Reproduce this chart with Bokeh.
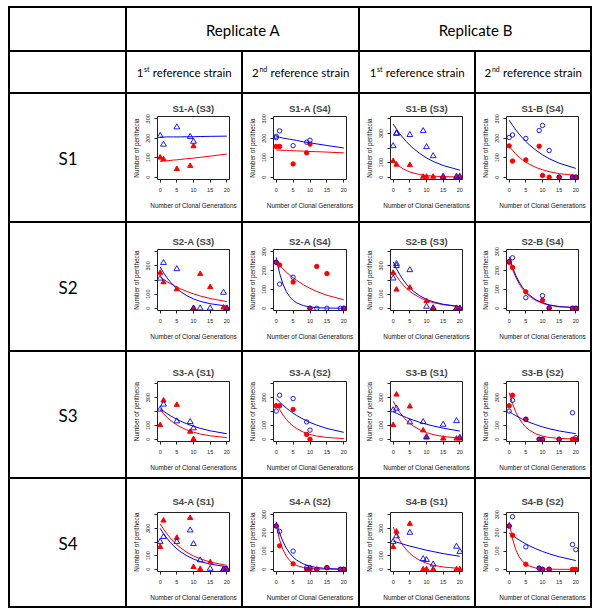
from bokeh.plotting import figure
from bokeh.models import GridBox, Range1d, FixedTicker, Plot, Text, ColumnDataSource, Div
from bokeh.core.properties import value
from bokeh.embed import file_html
from bokeh.resources import INLINE

# ---------------- data ----------------
REPLICATES = ["Replicate A", "Replicate B"]
REF_NUMS = ["1", "2", "1", "2"]
REF_SUPS = ["st", "nd", "st", "nd"]
REF_TEXT = "reference strain"
STRAINS = ["S1", "S2", "S3", "S4"]
PANEL_TITLES = [
    ["S1-A (S3)", "S1-A (S4)", "S1-B (S3)", "S1-B (S4)"],
    ["S2-A (S3)", "S2-A (S4)", "S2-B (S3)", "S2-B (S4)"],
    ["S3-A (S1)", "S3-A (S2)", "S3-B (S1)", "S3-B (S2)"],
    ["S4-A (S1)", "S4-A (S2)", "S4-B (S1)", "S4-B (S2)"],
]
PANEL_YMAX = [[300, 300, 400, 300],
              [400, 300, 400, 300],
              [400, 400, 400, 400],
              [400, 300, 400, 300]]
X_LABEL = "Number of Clonal Generations"
Y_LABEL = "Number of perithecia"
X_TICKS = [0, 5, 10, 15, 20]
Y_TICKS_300 = [0, 100, 200, 300]
Y_TICKS_400 = [0, 100, 200, 300, 400]
Y_HIDDEN_400 = [200, 400]
FIT_GENS = [0, 1, 2, 3, 4, 5, 6, 8, 10, 12, 15, 20]

# (generation, number of perithecia)
S1A_S3_BLUE = [(0, 213), (1, 168), (5, 257), (9, 208), (10, 183)]
S1A_S3_RED = [(0, 101), (1, 92), (5, 42), (9, 58), (10, 159)]
S1A_S3_BLUE_FIT = [206, 206, 207, 207, 207, 207, 207, 208, 208, 209, 210, 211]
S1A_S3_RED_FIT = [81, 83, 84, 86, 88, 89, 91, 95, 98, 102, 108, 119]

S1A_S4_BLUE = [(0, 203), (0, 210), (1, 238), (5, 162), (9, 180), (10, 190)]
S1A_S4_RED = [(0, 158), (1, 158), (5, 68), (9, 125), (10, 170)]
S1A_S4_BLUE_FIT = [208, 205, 201, 198, 195, 192, 189, 182, 177, 171, 163, 150]
S1A_S4_RED_FIT = [140, 139, 138, 138, 137, 136, 135, 134, 132, 131, 129, 125]

S1B_S3_BLUE = [(0, 214), (1, 302), (1, 298), (5, 290), (9, 317), (10, 207), (12, 145), (15, 5), (19, 5), (20, 5)]
S1B_S3_RED = [(0, 110), (1, 86), (5, 83), (9, 3), (10, 3), (12, 3), (15, 0), (19, 0), (20, 0)]
S1B_S3_BLUE_FIT = [364, 329, 297, 269, 243, 219, 198, 162, 132, 108, 80, 48]
S1B_S3_RED_FIT = [114, 91, 72, 57, 45, 36, 29, 18, 11, 7, 4, 1]

S1B_S4_BLUE = [(0, 204), (1, 217), (5, 199), (9, 240), (10, 266), (12, 137), (15, 0), (19, 0), (20, 0)]
S1B_S4_RED = [(0, 161), (1, 83), (5, 89), (9, 159), (10, 9), (12, 0), (15, 0), (19, 0), (20, 0)]
S1B_S4_BLUE_FIT = [293, 267, 243, 221, 202, 184, 167, 139, 115, 95, 72, 45]
S1B_S4_RED_FIT = [159, 138, 119, 103, 89, 77, 67, 50, 38, 28, 18, 9]

S2A_S3_BLUE = [(0, 211), (1, 322), (5, 278), (10, 0), (12, 0), (15, 0), (19, 111), (20, 0)]
S2A_S3_RED = [(0, 251), (1, 184), (5, 135), (10, 0), (12, 243), (15, 150), (19, 5), (20, 0)]
S2A_S3_BLUE_FIT = [292, 252, 217, 187, 162, 139, 120, 89, 66, 49, 32, 15]
S2A_S3_RED_FIT = [221, 205, 189, 175, 162, 150, 139, 119, 102, 87, 69, 47]

S2A_S4_BLUE = [(0, 244), (1, 128), (5, 165), (10, 0), (12, 0), (15, 0), (19, 0), (20, 0)]
S2A_S4_RED = [(0, 244), (1, 230), (5, 139), (10, 0), (12, 222), (15, 184), (20, 0)]
S2A_S4_BLUE_FIT = [270, 186, 128, 88, 61, 42, 29, 14, 7, 3, 1, 0]
S2A_S4_RED_FIT = [248, 228, 209, 192, 176, 162, 149, 125, 106, 89, 69, 45]

S2B_S3_BLUE = [(0, 212), (1, 315), (1, 300), (5, 271), (10, 12), (12, 2), (19, 0), (20, 0)]
S2B_S3_RED = [(0, 251), (1, 132), (5, 146), (10, 51), (12, 0), (19, 0), (20, 0)]
S2B_S3_BLUE_FIT = [329, 279, 237, 201, 170, 144, 122, 88, 63, 46, 28, 12]
S2B_S3_RED_FIT = [266, 227, 194, 165, 141, 120, 103, 75, 54, 40, 25, 11]

S2B_S4_BLUE = [(0, 248), (1, 268), (5, 56), (10, 67), (12, 2), (19, 0), (20, 0)]
S2B_S4_RED = [(0, 244), (1, 217), (5, 87), (10, 42), (12, 0), (19, 0), (20, 0)]
S2B_S4_BLUE_FIT = [273, 218, 174, 139, 111, 89, 71, 45, 29, 18, 9, 3]
S2B_S4_RED_FIT = [259, 206, 164, 130, 103, 82, 65, 41, 26, 16, 8, 3]

S3A_S1_BLUE = [(0, 215), (1, 251), (5, 130), (9, 125), (10, 80)]
S3A_S1_RED = [(0, 102), (1, 279), (5, 248), (9, 54), (10, 2)]
S3A_S1_BLUE_FIT = [220, 202, 186, 170, 157, 144, 132, 111, 94, 79, 61, 40]
S3A_S1_RED_FIT = [213, 185, 160, 138, 120, 104, 90, 67, 51, 38, 25, 12]

S3A_S2_BLUE = [(0, 203), (1, 317), (5, 293), (9, 125), (10, 66)]
S3A_S2_RED = [(0, 241), (1, 241), (5, 215), (9, 35), (10, 0)]
S3A_S2_BLUE_FIT = [293, 268, 246, 225, 206, 188, 172, 145, 121, 102, 78, 50]
S3A_S2_RED_FIT = [262, 214, 175, 143, 116, 95, 78, 52, 34, 23, 13, 5]

S3B_S1_BLUE = [(0, 210), (1, 222), (5, 123), (9, 125), (10, 17), (15, 106), (19, 132), (20, 12)]
S3B_S1_RED = [(0, 102), (1, 322), (5, 236), (9, 64), (10, 12), (15, 5), (19, 5), (20, 5)]
S3B_S1_BLUE_FIT = [199, 187, 176, 166, 156, 147, 138, 122, 108, 96, 80, 59]
S3B_S1_RED_FIT = [274, 230, 193, 162, 136, 114, 96, 68, 48, 34, 20, 8]

S3B_S2_BLUE = [(0, 203), (1, 281), (5, 144), (9, 0), (10, 0), (15, 0), (19, 191), (20, 12)]
S3B_S2_RED = [(0, 241), (1, 317), (5, 144), (9, 0), (10, 0), (15, 0), (19, 0), (20, 0)]
S3B_S2_BLUE_FIT = [199, 184, 170, 157, 144, 133, 123, 105, 89, 76, 60, 40]
S3B_S2_RED_FIT = [336, 257, 196, 150, 114, 87, 67, 39, 23, 13, 6, 2]

S4A_S1_BLUE = [(0, 202), (1, 238), (5, 202), (9, 286), (10, 186), (12, 67), (15, 5), (19, 0), (20, 0)]
S4A_S1_RED = [(0, 164), (1, 357), (5, 231), (9, 376), (10, 17), (12, 2), (15, 52), (19, 0), (20, 0)]
S4A_S1_BLUE_FIT = [300, 261, 228, 198, 173, 150, 131, 99, 75, 57, 38, 19]
S4A_S1_RED_FIT = [333, 295, 261, 231, 204, 181, 160, 125, 98, 77, 53, 29]

S4A_S2_BLUE = [(0, 238), (1, 208), (5, 100), (9, 9), (10, 9), (12, 0), (15, 9), (19, 0), (20, 0)]
S4A_S2_RED = [(0, 238), (1, 129), (5, 30), (9, 0), (10, 0), (12, 0), (15, 9), (19, 0), (20, 0)]
S4A_S2_BLUE_FIT = [261, 199, 152, 116, 88, 67, 51, 30, 17, 10, 4, 1]
S4A_S2_RED_FIT = [243, 162, 108, 72, 48, 32, 21, 10, 4, 2, 1, 0]

S4B_S1_BLUE = [(0, 202), (1, 243), (5, 269), (9, 76), (10, 69), (12, 36), (19, 167), (20, 129)]
S4B_S1_RED = [(0, 164), (1, 276), (5, 333), (9, 0), (10, 0), (12, 0), (19, 0), (20, 0)]
S4B_S1_BLUE_FIT = [207, 199, 192, 184, 177, 170, 164, 152, 140, 130, 115, 95]
S4B_S1_RED_FIT = [310, 255, 210, 173, 142, 117, 96, 65, 44, 30, 17, 6]

S4B_S2_BLUE = [(0, 238), (1, 289), (5, 123), (9, 5), (10, 0), (12, 0), (19, 136), (20, 108)]
S4B_S2_RED = [(0, 238), (1, 187), (5, 28), (9, 7), (10, 0), (12, 0), (19, 0), (20, 0)]
S4B_S2_BLUE_FIT = [199, 185, 173, 161, 150, 140, 130, 113, 98, 85, 69, 48]
S4B_S2_RED_FIT = [261, 167, 107, 68, 44, 28, 18, 7, 3, 1, 0, 0]

PANEL_DATA = [
    [(S1A_S3_BLUE, S1A_S3_RED, S1A_S3_BLUE_FIT, S1A_S3_RED_FIT),
     (S1A_S4_BLUE, S1A_S4_RED, S1A_S4_BLUE_FIT, S1A_S4_RED_FIT),
     (S1B_S3_BLUE, S1B_S3_RED, S1B_S3_BLUE_FIT, S1B_S3_RED_FIT),
     (S1B_S4_BLUE, S1B_S4_RED, S1B_S4_BLUE_FIT, S1B_S4_RED_FIT)],
    [(S2A_S3_BLUE, S2A_S3_RED, S2A_S3_BLUE_FIT, S2A_S3_RED_FIT),
     (S2A_S4_BLUE, S2A_S4_RED, S2A_S4_BLUE_FIT, S2A_S4_RED_FIT),
     (S2B_S3_BLUE, S2B_S3_RED, S2B_S3_BLUE_FIT, S2B_S3_RED_FIT),
     (S2B_S4_BLUE, S2B_S4_RED, S2B_S4_BLUE_FIT, S2B_S4_RED_FIT)],
    [(S3A_S1_BLUE, S3A_S1_RED, S3A_S1_BLUE_FIT, S3A_S1_RED_FIT),
     (S3A_S2_BLUE, S3A_S2_RED, S3A_S2_BLUE_FIT, S3A_S2_RED_FIT),
     (S3B_S1_BLUE, S3B_S1_RED, S3B_S1_BLUE_FIT, S3B_S1_RED_FIT),
     (S3B_S2_BLUE, S3B_S2_RED, S3B_S2_BLUE_FIT, S3B_S2_RED_FIT)],
    [(S4A_S1_BLUE, S4A_S1_RED, S4A_S1_BLUE_FIT, S4A_S1_RED_FIT),
     (S4A_S2_BLUE, S4A_S2_RED, S4A_S2_BLUE_FIT, S4A_S2_RED_FIT),
     (S4B_S1_BLUE, S4B_S1_RED, S4B_S1_BLUE_FIT, S4B_S1_RED_FIT),
     (S4B_S2_BLUE, S4B_S2_RED, S4B_S2_BLUE_FIT, S4B_S2_RED_FIT)],
]

# ---------------- layout / style ----------------
COL_W = [115, 114, 115, 114, 114]
ROW_H = [42, 40, 127, 127, 125, 127]
GAP = 2
# per strain row: min border top, frame height, title standoff
ROW_FRAME = [(22, 63, 6), (26, 61, 6), (29, 60, 8), (33, 59, 12)]
BLUE = "#0000ff"
RED = "#ff0000"
HEAD_FONT = "Lato"
PLOT_FONT = "Liberation Sans"
CELL_CSS = {"background-color": "white"}
NUM_W = 6.7
SUP_W = {"st": 5.5, "nd": 8.0}
REST_W = 80.0
CAN_UNALIGN = "frame_align" in Plot.properties()


def blank(w, h):
    kw = dict(width=w, height=h, x_range=Range1d(0, w), y_range=Range1d(0, h),
              toolbar_location=None, output_backend="svg", min_border=0,
              title=None, outline_line_color=None,
              background_fill_color="white", border_fill_color="white",
              styles=CELL_CSS)
    if CAN_UNALIGN:
        kw["frame_align"] = False
    return Plot(**kw)


def head_text(p, xs, ys, txts, size):
    src = ColumnDataSource(dict(x=xs, y=ys, text=txts))
    p.add_glyph(src, Text(x="x", y="y", text="text", text_font=value(HEAD_FONT),
                          text_font_size=value(size), text_align="center",
                          text_baseline="middle", text_color="black"))


def div_cell(w, h, html, size):
    return Div(text=html, width=w, height=h,
               styles={"background-color": "white", "font-family": HEAD_FONT,
                       "font-size": size, "text-align": "center",
                       "line-height": "%dpx" % h, "overflow": "hidden"})


def text_cell(w, h, txt, size):
    if not CAN_UNALIGN:
        return div_cell(w, h, txt, size)
    p = blank(w, h)
    head_text(p, [w / 2], [h / 2], [txt], size)
    return p


def ref_header(w, h, num, sup):
    if not CAN_UNALIGN:
        return div_cell(w, h, "%s<sup>%s</sup> %s" % (num, sup, REF_TEXT), "11.5px")
    p = blank(w, h)
    sw = SUP_W[sup]
    total = NUM_W + 0.5 + sw + 2.6 + REST_W
    x0 = (w - total) / 2
    c_num = x0 + NUM_W / 2
    c_sup = x0 + NUM_W + 0.5 + sw / 2
    c_rest = x0 + NUM_W + 0.5 + sw + 2.6 + REST_W / 2
    yc = h / 2
    head_text(p, [c_num, c_rest], [yc, yc], [num, REF_TEXT], "11.5px")
    head_text(p, [c_sup], [yc + 3.5], [sup], "7px")
    return p


def panel(title, data, ymax, circles, w, h, r):
    top, fh, standoff = ROW_FRAME[r]
    bottom = h - top - fh
    blue, red, blue_fit, red_fit = data
    p = figure(width=w, height=h, toolbar_location=None, output_backend="svg",
               x_range=Range1d(-0.8, 20.8),
               y_range=Range1d(-0.04 * ymax, 1.04 * ymax),
               min_border_left=30, min_border_right=12,
               min_border_top=top, min_border_bottom=bottom, title=title,
               styles=CELL_CSS)
    p.background_fill_color = "white"
    p.border_fill_color = "white"
    p.grid.visible = False
    p.outline_line_color = "#222222"
    p.outline_line_width = 1
    p.title.text_font = PLOT_FONT
    p.title.text_font_size = "9.5px"
    p.title.text_font_style = "bold"
    p.title.align = "center"
    p.title.standoff = standoff
    p.title.offset = -3

    p.line(FIT_GENS, red_fit, line_color=RED, line_width=1)
    p.line(FIT_GENS, blue_fit, line_color=BLUE, line_width=1)
    rx = [g for g, v in red]
    ry = [v for g, v in red]
    bx = [g for g, v in blue]
    by = [v for g, v in blue]
    if circles:
        p.scatter(rx, ry, marker="circle", size=4.4, fill_color=RED, line_color=RED)
        p.scatter(bx, by, marker="circle", size=4.4, fill_color=None,
                  line_color=BLUE, line_width=0.9)
    else:
        p.scatter(rx, ry, marker="triangle", size=5.2, fill_color=RED, line_color=RED)
        p.scatter(bx, by, marker="triangle", size=5.8, fill_color=None,
                  line_color=BLUE, line_width=0.9)

    p.xaxis.ticker = FixedTicker(ticks=X_TICKS)
    if ymax == 400:
        p.yaxis.ticker = FixedTicker(ticks=Y_TICKS_400)
        p.yaxis.major_label_overrides = {t: "" for t in Y_HIDDEN_400}
    else:
        p.yaxis.ticker = FixedTicker(ticks=Y_TICKS_300)
    p.yaxis.major_label_orientation = "vertical"
    p.xaxis.axis_label = X_LABEL
    p.yaxis.axis_label = Y_LABEL
    for ax in p.axis:
        ax.axis_line_color = None
        ax.major_tick_in = 0
        ax.major_tick_out = 3
        ax.major_tick_line_color = "#222222"
        ax.minor_tick_line_color = None
        ax.major_label_text_font = PLOT_FONT
        ax.major_label_text_font_size = "5.5px"
        ax.major_label_text_color = "#222222"
        ax.axis_label_text_font = PLOT_FONT
        ax.axis_label_text_font_size = "6.4px"
        ax.axis_label_text_font_style = "normal"
        ax.axis_label_text_color = "#111111"
    p.xaxis.major_label_standoff = 5
    p.xaxis.axis_label_standoff = 7
    p.yaxis.major_label_standoff = 4
    p.yaxis.axis_label_standoff = 4
    return p


children = []
# header row 1
children.append((blank(COL_W[0], ROW_H[0]), 0, 0))
for i, rep in enumerate(REPLICATES):
    w = COL_W[1 + 2 * i] + COL_W[2 + 2 * i] + GAP
    children.append((text_cell(w, ROW_H[0], rep, "15px"), 0, 1 + 2 * i, 1, 2))
# header row 2
children.append((blank(COL_W[0], ROW_H[1]), 1, 0))
for c in range(4):
    children.append((ref_header(COL_W[c + 1], ROW_H[1], REF_NUMS[c], REF_SUPS[c]), 1, c + 1))
# strain rows
for r, strain in enumerate(STRAINS):
    h = ROW_H[r + 2]
    children.append((text_cell(COL_W[0], h, strain, "17px"), r + 2, 0))
    for c in range(4):
        p = panel(PANEL_TITLES[r][c], PANEL_DATA[r][c], PANEL_YMAX[r][c],
                  c % 2 == 1, COL_W[c + 1], h, r)
        children.append((p, r + 2, c + 1))

grid = GridBox(children=children, spacing=GAP,
               styles={"background-color": "black", "padding": "2px",
                       "margin-left": "8px", "margin-top": "6px"})

open("out.html", "w").write(file_html(grid, INLINE))
